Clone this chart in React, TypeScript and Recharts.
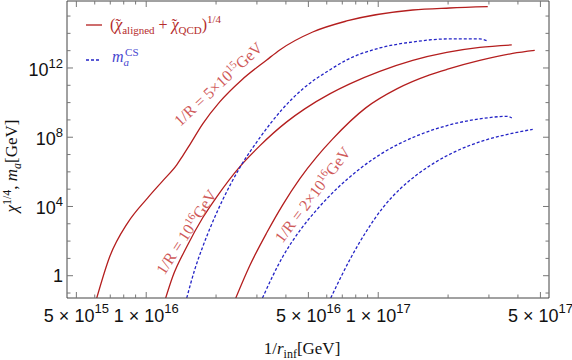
import React from 'react';
import { LineChart, Line, XAxis, YAxis } from 'recharts';

// ---- data (x = 1/r_inf [GeV], y = value [GeV]) ----
const chiR5e15 = [
  { x: 6.12e15, y: 0.0516 }, { x: 6.96e15, y: 12.5 }, { x: 8.32e15, y: 1.14e3 },
  { x: 1.015e16, y: 3.17e4 }, { x: 1.178e16, y: 3.03e5 }, { x: 1.354e16, y: 2.54e6 },
  { x: 1.437e16, y: 8.4e6 }, { x: 1.54e16, y: 3.62e7 }, { x: 1.752e16, y: 5.9e8 },
  { x: 2.074e16, y: 1.1e10 }, { x: 2.579e16, y: 2.04e11 }, { x: 3.307e16, y: 2.91e12 },
  { x: 3.762e16, y: 1.1e13 }, { x: 5.22e16, y: 1.2e14 }, { x: 7.31e16, y: 5.18e14 },
  { x: 1.408e17, y: 2.24e15 }, { x: 2.033e17, y: 2.92e15 }, { x: 2.965e17, y: 3.47e15 },
];
const chiR1e16 = [
  { x: 1.213e16, y: 0.0516 }, { x: 1.3e16, y: 0.875 }, { x: 1.495e16, y: 47.1 },
  { x: 1.752e16, y: 2.22e3 }, { x: 2.014e16, y: 3.62e4 }, { x: 2.529e16, y: 1.95e6 },
  { x: 3.085e16, y: 3.17e7 }, { x: 4.033e16, y: 7.7e8 }, { x: 4.823e16, y: 4.33e9 },
  { x: 6.18e16, y: 3.18e10 }, { x: 7.54e16, y: 1.2e11 }, { x: 1.015e17, y: 6.31e11 },
  { x: 1.408e17, y: 2.72e12 }, { x: 1.974e17, y: 7.88e12 }, { x: 2.739e17, y: 1.53e13 },
  { x: 3.763e17, y: 2.14e13 },
];
const chiR2e16 = [
  { x: 2.432e16, y: 0.0516 }, { x: 2.793e16, y: 3.78 }, { x: 3.307e16, y: 303 },
  { x: 3.876e16, y: 1.25e4 }, { x: 4.587e16, y: 3.96e5 }, { x: 5.431e16, y: 7.36e6 },
  { x: 6.367e16, y: 8.04e7 }, { x: 8.835e16, y: 4.95e9 }, { x: 1.202e17, y: 6.17e10 },
  { x: 1.667e17, y: 3.97e11 }, { x: 1.974e17, y: 8.24e11 }, { x: 2.739e17, y: 2.72e12 },
  { x: 3.8e17, y: 6.9e12 }, { x: 4.727e17, y: 1.03e13 },
];
const maR5e15 = [
  { x: 1.495e16, y: 0.0516 }, { x: 1.618e16, y: 2.22 }, { x: 1.752e16, y: 47.1 },
  { x: 1.935e16, y: 1.31e3 }, { x: 2.137e16, y: 2.43e4 }, { x: 2.529e16, y: 1.71e6 },
  { x: 3.085e16, y: 9.19e7 }, { x: 3.837e16, y: 3.79e9 }, { x: 4.727e16, y: 6.17e10 },
  { x: 6.18e16, y: 7.71e11 }, { x: 7.31e16, y: 2.91e12 }, { x: 1.015e17, y: 1.43e13 },
  { x: 1.408e17, y: 3.18e13 }, { x: 1.974e17, y: 4.74e13 }, { x: 2.739e17, y: 4.74e13 },
  { x: 2.965e17, y: 3.63e13 },
];
const maR1e16 = [
  { x: 3.169e16, y: 0.0516 }, { x: 3.876e16, y: 12.5 }, { x: 4.587e16, y: 395 },
  { x: 5.431e16, y: 6.43e3 }, { x: 6.623e16, y: 1.05e5 }, { x: 8.323e16, y: 1.49e6 },
  { x: 1.046e17, y: 1.25e7 }, { x: 1.466e17, y: 1.2e8 }, { x: 2.033e17, y: 5.17e8 },
  { x: 2.82e17, y: 1.22e9 }, { x: 3.581e17, y: 1.6e9 }, { x: 3.763e17, y: 1.31e9 },
];
const maR2e16 = [
  { x: 6.242e16, y: 0.0516 }, { x: 7.54e16, y: 8.38 }, { x: 8.92e16, y: 395 },
  { x: 1.046e17, y: 8.39e3 }, { x: 1.238e17, y: 9.8e4 }, { x: 1.466e17, y: 6.73e5 },
  { x: 1.718e17, y: 2.9e6 }, { x: 2.18e17, y: 1.63e7 }, { x: 2.82e17, y: 6.17e7 },
  { x: 3.688e17, y: 1.56e8 }, { x: 4.633e17, y: 2.84e8 },
];

const xDomain = [4.556e15, 5.445e17];
const yDomain = [0.0516, 7.4e15];

const xMajorTicks = [5e15, 1e16, 5e16, 1e17, 5e17];
const xTickLabels = ['5 × 10^15', '1 × 10^16', '5 × 10^16', '1 × 10^17', '5 × 10^17'];
const xMinorTicks = [6e15, 7e15, 8e15, 9e15, 2e16, 3e16, 4e16, 6e16, 7e16, 8e16, 9e16, 2e17, 3e17, 4e17];
const yMajorTicks = [1, 1e4, 1e8, 1e12];
const yTickLabels = ['1', '10^4', '10^8', '10^12'];
const yMinorTicks = [0.1, 10, 100, 1000, 1e5, 1e6, 1e7, 1e9, 1e10, 1e11, 1e13, 1e14, 1e15];

const xTicks = [...xMajorTicks, ...xMinorTicks].sort((a, b) => a - b);
const yTicks = [...yMajorTicks, ...yMinorTicks].sort((a, b) => a - b);

const RED = '#b41e1e';
const BLUE = '#2323c6';
const ANN = '#cf5a5a';
const FRAME = '#444';
const TICK = '#777';
const SANS = '"Liberation Sans", Arial, sans-serif';
const SERIF = '"Liberation Serif", "Times New Roman", serif';
const MAJ = 6;
const MIN = 3.5;

const findIdx = (list: number[], v: number) => list.findIndex((m) => Math.abs(m - v) / m < 1e-6);

const SupLabel = ({ x, y, text, anchor, supDy }: any) => {
  const [base, sup] = String(text).split('^');
  return (
    <text x={x} y={y} textAnchor={anchor} fontFamily={SANS} fontSize={18} fill="#111">
      <tspan>{base}</tspan>
      {sup !== undefined && (
        <tspan dy={supDy} fontSize={13}>
          {sup}
        </tspan>
      )}
    </text>
  );
};

const BottomTick = (props: any) => {
  const { x, y, payload } = props;
  const idx = findIdx(xMajorTicks, payload.value);
  const major = idx >= 0;
  return (
    <g>
      <line x1={x} x2={x} y1={y} y2={y - (major ? MAJ : MIN)} stroke={TICK} strokeWidth={1} />
      {major && <SupLabel x={x} y={y + 23.5} text={xTickLabels[idx]} anchor="middle" supDy={-8.5} />}
    </g>
  );
};
const TopTick = (props: any) => {
  const { x, y, payload } = props;
  const major = findIdx(xMajorTicks, payload.value) >= 0;
  return <line x1={x} x2={x} y1={y} y2={y + (major ? MAJ : MIN)} stroke={TICK} strokeWidth={1} />;
};
const LeftTick = (props: any) => {
  const { x, y, payload } = props;
  const idx = findIdx(yMajorTicks, payload.value);
  const major = idx >= 0;
  const label = major ? yTickLabels[idx] : '';
  return (
    <g>
      <line x1={x} x2={x + (major ? MAJ : MIN)} y1={y} y2={y} stroke={TICK} strokeWidth={1} />
      {major && (
        <SupLabel x={x - 4} y={y + (label.includes('^') ? 8 : 6)} text={label} anchor="end" supDy={-8} />
      )}
    </g>
  );
};
const RightTick = (props: any) => {
  const { x, y, payload } = props;
  const major = findIdx(yMajorTicks, payload.value) >= 0;
  return <line x1={x} x2={x - (major ? MAJ : MIN)} y1={y} y2={y} stroke={TICK} strokeWidth={1} />;
};

const Annotation = ({ x, y, angle, pre, exp }: any) => (
  <text
    x={x}
    y={y}
    transform={`rotate(${-angle}, ${x}, ${y})`}
    textAnchor="middle"
    fontFamily={SERIF}
    fontSize={16}
    fill={ANN}
  >
    <tspan>{pre}</tspan>
    <tspan dy={-6} fontSize={11}>
      {exp}
    </tspan>
    <tspan dy={6}>GeV</tspan>
  </text>
);

const Overlay = () => (
  <svg
    width={572}
    height={360}
    style={{ position: 'absolute', left: 0, top: 0, pointerEvents: 'none' }}
  >
    {/* legend */}
    <line x1={86} x2={102} y1={25} y2={25} stroke={RED} strokeWidth={1.3} />
    <text x={110} y={30} fontFamily={SERIF} fontSize={16} fill="#b52c2c">
      <tspan>(</tspan>
      <tspan fontStyle="italic">χ</tspan>
      <tspan dx={-7}>˜</tspan>
      <tspan dx={1.5} dy={4} fontSize={11}>aligned</tspan>
      <tspan dy={-4}> + </tspan>
      <tspan fontStyle="italic">χ</tspan>
      <tspan dx={-7}>˜</tspan>
      <tspan dx={1.5} dy={4} fontSize={11}>QCD</tspan>
      <tspan dy={-4}>)</tspan>
      <tspan dy={-7} fontSize={11}>1/4</tspan>
    </text>
    <line x1={86} x2={101} y1={60} y2={60} stroke={BLUE} strokeWidth={1.3} strokeDasharray="3 2" />
    <text x={112} y={62} fontFamily={SERIF} fontSize={16} fill="#4747cf">
      <tspan fontStyle="italic">m</tspan>
      <tspan dy={4} fontSize={11} fontStyle="italic">a</tspan>
      <tspan dx={-4} dy={-10} fontSize={11}>CS</tspan>
    </text>

    {/* curve annotations */}
    <Annotation x={222} y={88} angle={43} pre="1/R = 5×10" exp="15" />
    <Annotation x={191} y={235} angle={57} pre="1/R = 10" exp="16" />
    <Annotation x={317} y={198} angle={53} pre="1/R = 2×10" exp="16" />

    {/* axis labels */}
    <text x={302} y={354} textAnchor="middle" fontFamily={SERIF} fontSize={17} fill="#111">
      <tspan>1/</tspan>
      <tspan fontStyle="italic">r</tspan>
      <tspan dy={4} fontSize={12}>inf</tspan>
      <tspan dy={-4}>[GeV]</tspan>
    </text>
    <text
      x={17}
      y={166}
      transform="rotate(-90, 17, 166)"
      textAnchor="middle"
      fontFamily={SERIF}
      fontSize={17}
      fill="#111"
    >
      <tspan fontStyle="italic">χ</tspan>
      <tspan dy={-6} fontSize={12}>1/4</tspan>
      <tspan dy={6}>, </tspan>
      <tspan fontStyle="italic">m</tspan>
      <tspan dy={4} fontSize={12} fontStyle="italic">a</tspan>
      <tspan dy={-4}>[GeV]</tspan>
    </text>
  </svg>
);

export default function App() {
  const lineCommon = {
    type: 'monotone' as const,
    dataKey: 'y',
    dot: false,
    activeDot: false,
    isAnimationActive: false,
    strokeWidth: 1.3,
  };
  return (
    <div style={{ position: 'absolute', left: 0, top: 0, width: 572, height: 360, background: '#fff' }}>
      <LineChart width={572} height={360} margin={{ top: 0, right: 22, bottom: 0, left: 0 }}>
        <XAxis
          dataKey="x"
          type="number"
          scale="log"
          domain={xDomain}
          allowDataOverflow
          ticks={xTicks}
          interval={0}
          height={62}
          tickSize={0}
          tickMargin={0}
          tickLine={false}
          axisLine={{ stroke: FRAME, strokeWidth: 1 }}
          tick={<BottomTick />}
        />
        <XAxis
          xAxisId="top"
          orientation="top"
          dataKey="x"
          type="number"
          scale="log"
          domain={xDomain}
          allowDataOverflow
          ticks={xTicks}
          interval={0}
          height={1}
          tickSize={0}
          tickMargin={0}
          tickLine={false}
          axisLine={{ stroke: FRAME, strokeWidth: 1 }}
          tick={<TopTick />}
        />
        <YAxis
          type="number"
          scale="log"
          domain={yDomain}
          allowDataOverflow
          ticks={yTicks}
          interval={0}
          width={67}
          tickSize={0}
          tickMargin={0}
          tickLine={false}
          axisLine={{ stroke: FRAME, strokeWidth: 1 }}
          tick={<LeftTick />}
        />
        <YAxis
          yAxisId="right"
          orientation="right"
          type="number"
          scale="log"
          domain={yDomain}
          allowDataOverflow
          ticks={yTicks}
          interval={0}
          width={1}
          tickSize={0}
          tickMargin={0}
          tickLine={false}
          axisLine={{ stroke: FRAME, strokeWidth: 1 }}
          tick={<RightTick />}
        />
        <Line {...lineCommon} data={chiR5e15} stroke={RED} />
        <Line {...lineCommon} data={chiR1e16} stroke={RED} />
        <Line {...lineCommon} data={chiR2e16} stroke={RED} />
        <Line {...lineCommon} data={maR5e15} stroke={BLUE} strokeDasharray="3 2" />
        <Line {...lineCommon} data={maR1e16} stroke={BLUE} strokeDasharray="3 2" />
        <Line {...lineCommon} data={maR2e16} stroke={BLUE} strokeDasharray="3 2" />
      </LineChart>
      <Overlay />
    </div>
  );
}
